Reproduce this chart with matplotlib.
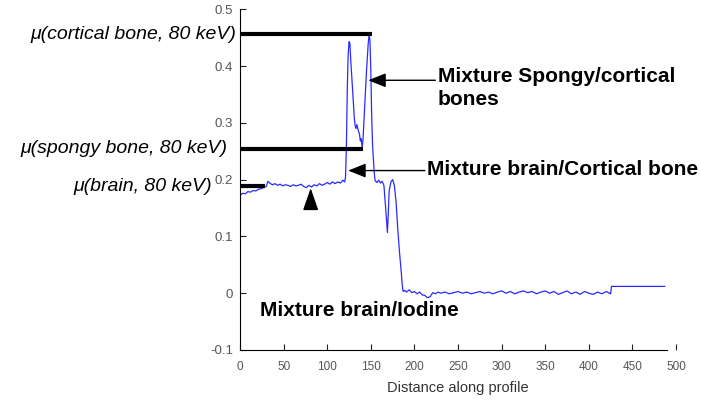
import matplotlib
matplotlib.use("Agg")
import matplotlib.pyplot as plt
import matplotlib.transforms as mtransforms

# profile: brain plateau, bone peaks, drop, iodine plateau
brain_x = [0, 3, 6, 9, 12, 15, 18, 21, 24, 27, 30, 32, 34, 37, 40, 43, 46, 49,
           52, 55, 58, 61, 64, 67, 70, 73, 76, 79, 82, 85, 88, 91, 94, 97, 100,
           103, 106, 109, 112, 115, 118, 120]
brain_y = [0.172, 0.176, 0.175, 0.179, 0.178, 0.181, 0.180, 0.183, 0.184, 0.186,
           0.188, 0.197, 0.194, 0.191, 0.193, 0.190, 0.192, 0.189, 0.191, 0.190,
           0.188, 0.191, 0.189, 0.190, 0.192, 0.188, 0.186, 0.190, 0.187, 0.191,
           0.189, 0.193, 0.190, 0.192, 0.195, 0.192, 0.196, 0.193, 0.196, 0.194,
           0.199, 0.196]

bone_x = [121, 122, 123, 124, 125, 126, 127, 129, 131, 132, 133, 134, 135, 137,
          138, 139, 140, 141, 143, 145, 147, 148, 149, 150, 151, 152, 154, 155,
          157, 159, 161, 163, 165, 167, 169, 170, 171, 173, 175, 177, 179, 181,
          183, 185, 186]
bone_y = [0.205, 0.26, 0.36, 0.42, 0.443, 0.44, 0.41, 0.36, 0.31, 0.295, 0.29,
          0.297, 0.29, 0.28, 0.268, 0.272, 0.257, 0.27, 0.33, 0.39, 0.44, 0.455,
          0.445, 0.39, 0.31, 0.26, 0.21, 0.198, 0.195, 0.199, 0.194, 0.197, 0.19,
          0.15, 0.107, 0.14, 0.18, 0.196, 0.2, 0.19, 0.16, 0.11, 0.07, 0.035,
          0.015]

iodine_x = [187, 189, 191, 194, 197, 200, 203, 206, 209, 212, 215, 218, 221, 224,
            227, 230, 235, 240, 245, 250, 255, 260, 265, 270, 275, 280, 285, 290,
            295, 300, 305, 310, 315, 320, 325, 330, 335, 340, 345, 350, 355, 360,
            365, 370, 375, 380, 385, 390, 395, 400, 405, 410, 415, 420, 425, 426,
            487]
iodine_y = [0.003, 0.005, 0.002, 0.006, 0.001, 0.003, -0.001, 0.002, -0.003,
            -0.004, -0.008, -0.006, 0.001, -0.001, 0.002, 0.000, 0.002, -0.001,
            0.001, 0.003, 0.000, 0.002, -0.001, 0.001, 0.003, 0.000, 0.002,
            -0.001, 0.002, 0.004, 0.000, 0.003, -0.001, 0.002, 0.004, 0.001,
            0.003, -0.001, 0.002, 0.004, 0.000, 0.003, -0.002, 0.001, 0.004,
            -0.001, 0.002, -0.002, 0.003, 0.000, -0.002, 0.002, -0.001, 0.003,
            -0.001, 0.012, 0.012]

dist = brain_x + bone_x + iodine_x
mu = brain_y + bone_y + iodine_y

# reference attenuation levels (value, line end)
ref_labels = ["\u03bc(cortical bone, 80 keV)", "\u03bc(spongy bone, 80 keV)",
              "\u03bc(brain, 80 keV)"]
ref_values = [0.456, 0.254, 0.188]
ref_ends = [151, 141, 29]

xticks = [0, 50, 100, 150, 200, 250, 300, 350, 400, 450, 500]
yticks = [-0.1, 0, 0.1, 0.2, 0.3, 0.4, 0.5]
ytick_labels = ["-0.1", "0", "0.1", "0.2", "0.3", "0.4", "0.5"]

plt.rcParams['font.family'] = ['Liberation Sans', 'DejaVu Sans']

fig = plt.figure(figsize=(7.01, 4.01), dpi=100)
ax = fig.add_axes([0.3424, 0.1272, 0.622, 0.8496])

ax.plot(dist, mu, color='#2a2aff', lw=0.9)

ax.set_xlim(0, 500)
ax.set_ylim(-0.1, 0.5)
ax.set_xticks(xticks)
ax.set_xticklabels([str(t) for t in xticks])
ax.set_yticks(yticks)
ax.set_yticklabels(ytick_labels)
ax.tick_params(direction='in', length=4, width=0.8, labelsize=8.5,
               labelcolor='#555555', colors='#222222')
ax.tick_params(axis='x', pad=8)
ax.tick_params(axis='y', labelsize=9.5, pad=5)
for s in ['top', 'right']:
    ax.spines[s].set_visible(False)
ax.spines['bottom'].set_bounds(0, 490)
ax.set_xlabel("Distance along profile", fontsize=10.5, color='#333333',
              labelpad=6)

# horizontal reference lines and labels
trans = mtransforms.blended_transform_factory(ax.transAxes, ax.transData)
label_x = [-0.009, -0.028, -0.064]
for lab, val, end, lx in zip(ref_labels, ref_values, ref_ends, label_x):
    ax.plot([0, end], [val, val], color='k', lw=3, clip_on=False,
            solid_capstyle='butt')
    ax.text(lx, val, lab, transform=trans, ha='right', va='center',
            fontsize=14, style='italic')

arrow = dict(arrowstyle='-|>,head_length=0.9,head_width=0.36', color='k',
             lw=1, mutation_scale=12, shrinkA=0, shrinkB=0)
ax.annotate("", xy=(147, 0.375), xytext=(224, 0.375), arrowprops=arrow)
ax.annotate("", xy=(124, 0.216), xytext=(212, 0.216), arrowprops=arrow)
ax.annotate("", xy=(81, 0.185), xytext=(81, 0.160),
            arrowprops=dict(arrowstyle='-|>,head_length=1.15,head_width=0.4',
                            color='k', lw=1, mutation_scale=12,
                            shrinkA=0, shrinkB=0))

ax.text(227, 0.361, "Mixture Spongy/cortical\nbones", fontsize=15,
        fontweight='bold', va='center', ha='left', linespacing=1.25,
        clip_on=False)
ax.text(214, 0.217, "Mixture brain/Cortical bone", fontsize=15,
        fontweight='bold', va='center', ha='left', clip_on=False)
ax.text(23, -0.031, "Mixture brain/Iodine", fontsize=15,
        fontweight='bold', va='center', ha='left')

fig.savefig("out.png", dpi=100)
